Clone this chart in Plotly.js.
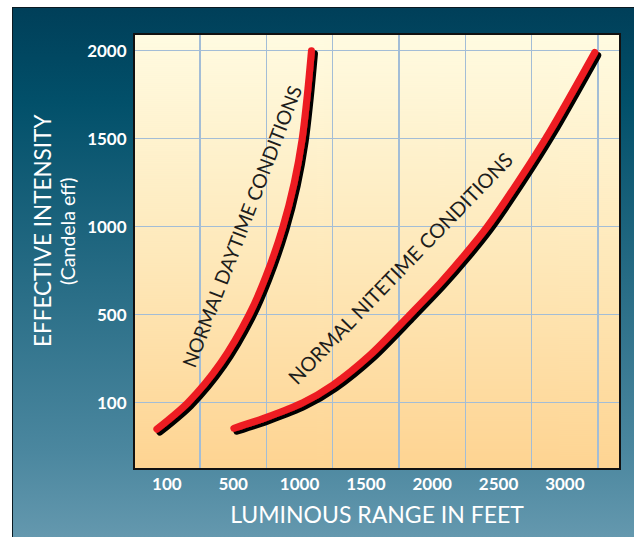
<!DOCTYPE html>
<html><head><meta charset="utf-8">
<script src="https://cdn.plot.ly/plotly-3.0.1.min.js"></script>
<style>
html,body{margin:0;padding:0;background:#fff;}
#bg{position:absolute;left:12px;top:7px;width:622px;height:530px;background:linear-gradient(to bottom,#003f59 0%,#02506a 18%,#4b879f 84%,#6498ae 100%);border-left:1px solid #0a1a22;border-top:1px solid #0a1a22;box-sizing:border-box;}
#chart{position:absolute;left:0;top:0;width:634px;height:537px;}
.js-plotly-plot .scatterlayer path.js-line{filter:url(#drop);stroke-linecap:round !important;stroke-linejoin:round !important;}
</style></head>
<body>
<svg width="0" height="0" style="position:absolute"><defs><filter id="drop" x="-30%" y="-30%" width="160%" height="160%"><feDropShadow dx="3" dy="3" stdDeviation="0" flood-color="#000" flood-opacity="1"/></filter></defs></svg>
<div id="bg"></div><div id="chart"></div>
<script>
// ---- data ----
const dayX = [-75, 158, 405, 620, 745, 875, 960, 1020, 1060, 1090];
const dayY = [-150, 0, 225, 500, 715, 1000, 1250, 1500, 1760, 2000];
const niteX = [505, 745, 1025, 1250, 1530, 1825, 2060, 2245, 2415, 2660, 2890, 3225];
const niteY = [-145, -85, 0, 100, 270, 495, 680, 840, 1000, 1270, 1545, 1990];

const xTickVals = [0, 500, 1000, 1500, 2000, 2500, 3000];
const xTickText = ["100", "500", "1000", "1500", "2000", "2500", "3000"];
const xGridVals = [250, 750, 1250, 1750, 2250, 2750, 3250];
const yTickVals = [0, 500, 1000, 1500, 2000];
const yTickText = ["100", "500", "1000", "1500", "2000"];

const curveNames = ["NORMAL DAYTIME CONDITIONS", "NORMAL NITETIME CONDITIONS"];
const xTitle = "LUMINOUS RANGE IN FEET";
const yTitle = "EFFECTIVE INTENSITY";
const ySubTitle = "(Candela eff)";

// plot-area gradient image
const cv = document.createElement('canvas');
cv.width = 4; cv.height = 433;
const ctx = cv.getContext('2d');
const g = ctx.createLinearGradient(0, 0, 0, 433);
g.addColorStop(0, '#fffbe1');
g.addColorStop(0.5, '#fee9bb');
g.addColorStop(1, '#fed492');
ctx.fillStyle = g; ctx.fillRect(0, 0, 4, 433);
const bgURL = cv.toDataURL('image/png');

const white = '#ffffff';
const tickFont = {family: 'Lato, sans-serif', size: 17, color: white, weight: 'bold'};

const traces = [
  {x: dayX, y: dayY, type: 'scatter', mode: 'lines', name: curveNames[0],
   line: {color: '#ed1c24', width: 7, shape: 'spline', smoothing: 0.8}, hoverinfo: 'skip'},
  {x: niteX, y: niteY, type: 'scatter', mode: 'lines', name: curveNames[1],
   line: {color: '#ed1c24', width: 7, shape: 'spline', smoothing: 0.8}, hoverinfo: 'skip'}
];

const layout = {
  width: 634, height: 537,
  margin: {l: 135, r: 15, t: 35, b: 69, pad: 0},
  paper_bgcolor: 'rgba(0,0,0,0)',
  plot_bgcolor: 'rgba(0,0,0,0)',
  showlegend: false,
  images: [{source: bgURL, xref: 'paper', yref: 'paper', x: 0, y: 1, sizex: 1, sizey: 1,
            sizing: 'stretch', xanchor: 'left', yanchor: 'top', layer: 'below'}],
  xaxis: {
    range: [-240, 3408], tickmode: 'array', tickvals: xTickVals, ticktext: xTickText,
    showgrid: false, zeroline: false, showline: true, mirror: true,
    linecolor: '#111', linewidth: 2, ticks: '', ticklabelstandoff: 0,
    tickfont: tickFont,
    minor: {tickmode: 'array', tickvals: xGridVals, showgrid: true, gridcolor: '#a3bdd6', gridwidth: 1.5, ticks: ''},
    title: {text: xTitle, font: {family: 'Lato, sans-serif', size: 23, color: white}, standoff: 13},
    fixedrange: true
  },
  yaxis: {
    range: [-371, 2089], tickmode: 'array', tickvals: yTickVals, ticktext: yTickText,
    showgrid: true, gridcolor: '#a3bdd6', gridwidth: 1.5, zeroline: false,
    showline: true, mirror: true, linecolor: '#111', linewidth: 2, ticks: '',
    ticklabelstandoff: 3, tickfont: tickFont,
    fixedrange: true
  },
  annotations: [
    {x: 564, y: 1001, xref: 'x', yref: 'y', text: curveNames[0], showarrow: false, textangle: -69,
     font: {family: 'Lato, sans-serif', size: 19.5, color: '#1d1d1b'}},
    {x: 1757, y: 765, xref: 'x', yref: 'y', text: curveNames[1], showarrow: false, textangle: -46,
     font: {family: 'Lato, sans-serif', size: 20, color: '#1d1d1b'}},
    {x: -0.1921, y: 0.5473, xref: 'paper', yref: 'paper', text: yTitle, showarrow: false, textangle: -90,
     xanchor: 'center', yanchor: 'middle',
     font: {family: 'Lato, sans-serif', size: 22.5, color: white}},
    {x: -0.1405, y: 0.5473, xref: 'paper', yref: 'paper', text: ySubTitle, showarrow: false, textangle: -90,
     xanchor: 'center', yanchor: 'middle',
     font: {family: 'Lato, sans-serif', size: 19.5, color: white}}
  ]
};

Plotly.newPlot('chart', traces, layout, {displayModeBar: false, staticPlot: true});
</script>
</body></html>
